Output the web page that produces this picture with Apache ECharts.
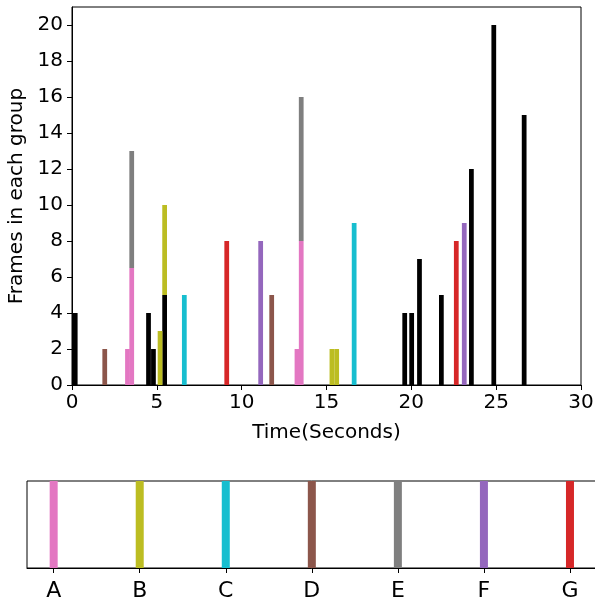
<!DOCTYPE html>
<html>
<head>
<meta charset="utf-8">
<script src="https://cdn.jsdelivr.net/npm/echarts@6/dist/echarts.min.js"></script>
<style>html,body{margin:0;padding:0;background:#fff}#c{width:595px;height:600px}</style>
</head>
<body>
<div id="c"></div>
<script>
// ---- data ----
const blackTimes  = [0.19, 4.51, 4.80, 5.46, 19.61, 20.02, 20.48, 21.77, 23.54, 24.86, 26.65];
const blackValues = [4, 4, 2, 5, 4, 4, 7, 5, 12, 20, 15];
const aTimes = [3.27, 3.52, 13.26, 13.51];  const aValues = [2, 6.5, 2, 8];
const bTimes = [5.19, 5.46, 15.32, 15.60];  const bValues = [3, 5, 2, 2];
const cTimes = [6.62, 16.63];               const cValues = [5, 9];
const dTimes = [1.93, 11.77];               const dValues = [2, 5];
const eTimes = [3.52, 13.51];               const eValues = [6.5, 8];
const fTimes = [11.12, 23.12];              const fValues = [8, 9];
const gTimes = [9.12, 22.65];               const gValues = [8, 8];
const groupNames = ['A', 'B', 'C', 'D', 'E', 'F', 'G'];
const xTicks = [0, 5, 10, 15, 20, 25, 30];
const yTicks = [0, 2, 4, 6, 8, 10, 12, 14, 16, 18, 20];

// ---- styles ----
const groupColors = ['#e377c2', '#bcbd22', '#17becf', '#8c564b', '#7f7f7f', '#9467bd', '#d62728'];
const FONT = 'DejaVu Sans';
const FS = 20;
const BAR_W = 0.28; // data units

const groups = [
  {name: 'other', color: '#000000', t: blackTimes, v: blackValues},
  {name: 'A', color: groupColors[0], t: aTimes, v: aValues},
  {name: 'B', color: groupColors[1], t: bTimes, v: bValues},
  {name: 'C', color: groupColors[2], t: cTimes, v: cValues},
  {name: 'D', color: groupColors[3], t: dTimes, v: dValues},
  {name: 'E', color: groupColors[4], t: eTimes, v: eValues},
  {name: 'F', color: groupColors[5], t: fTimes, v: fValues},
  {name: 'G', color: groupColors[6], t: gTimes, v: gValues}
];

// stack bars sharing the same time
const stackTop = {};
const series = groups.map(g => {
  const data = g.t.map((t, i) => {
    const key = t.toFixed(2);
    const base = stackTop[key] || 0;
    const top = base + g.v[i];
    stackTop[key] = top;
    return [t, base, top];
  });
  return {
    type: 'custom', name: g.name, xAxisIndex: 0, yAxisIndex: 0,
    encode: {x: 0, y: [1, 2]},
    data: data,
    renderItem: (params, api) => {
      const x = api.value(0), y0 = api.value(1), y1 = api.value(2);
      const p0 = api.coord([x - BAR_W / 2, y0]);
      const p1 = api.coord([x + BAR_W / 2, y1]);
      return {type: 'rect', shape: {x: p0[0], y: p1[1], width: p1[0] - p0[0], height: p0[1] - p1[1]},
              style: {fill: g.color}};
    }
  };
});

// bottom legend-like panel
series.push({
  type: 'custom', name: 'groups', xAxisIndex: 1, yAxisIndex: 1,
  encode: {x: 0, y: [1, 2]},
  data: groupNames.map((n, i) => [i, 0, 1]),
  renderItem: (params, api) => {
    const i = api.value(0);
    const p0 = api.coord([i, 0]);
    const p1 = api.coord([i, 1]);
    return {type: 'rect', shape: {x: p0[0] - 4, y: p1[1], width: 8, height: p0[1] - p1[1]},
            style: {fill: groupColors[i]}};
  }
});

const chart = echarts.init(document.getElementById('c'), null, {renderer: 'canvas'});
chart.setOption({
  animation: false,
  backgroundColor: '#fff',
  grid: [
    {left: 72, top: 7, width: 509, height: 378, show: true, borderColor: '#000', borderWidth: 1,
     backgroundColor: 'transparent', outerBoundsMode: 'none', containLabel: false},
    {left: 27, top: 481, width: 586, height: 87, show: true, borderColor: '#000', borderWidth: 1,
     backgroundColor: 'transparent', outerBoundsMode: 'none', containLabel: false}
  ],
  xAxis: [
    {type: 'value', gridIndex: 0, min: 0, max: 30, interval: 5,
     name: 'Time(Seconds)', nameLocation: 'middle', nameGap: 38,
     nameTextStyle: {fontFamily: FONT, fontSize: FS, color: '#000'},
     axisLine: {show: true, onZero: false, lineStyle: {color: '#000', width: 1}},
     axisTick: {show: true, inside: false, length: 5, lineStyle: {color: '#000'}, customValues: xTicks},
     axisLabel: {fontFamily: FONT, fontSize: FS, color: '#000', margin: 8, customValues: xTicks},
     splitLine: {show: false}},
    {type: 'value', gridIndex: 1, min: -0.31, max: 6.5,
     axisLine: {show: true, onZero: false, lineStyle: {color: '#000', width: 1}},
     axisTick: {show: true, inside: false, length: 5, lineStyle: {color: '#000'}, customValues: [0, 1, 2, 3, 4, 5, 6]},
     axisLabel: {fontFamily: FONT, fontSize: 22, color: '#000', margin: 12, customValues: [0, 1, 2, 3, 4, 5, 6],
                 formatter: v => groupNames[Math.round(v)]},
     splitLine: {show: false}}
  ],
  yAxis: [
    {type: 'value', gridIndex: 0, min: 0, max: 21,
     name: 'Frames in each group', nameLocation: 'middle', nameGap: 40, nameRotate: 90,
     nameTextStyle: {fontFamily: FONT, fontSize: FS, color: '#000'},
     axisLine: {show: true, onZero: false, lineStyle: {color: '#000', width: 1}},
     axisTick: {show: true, inside: false, length: 5, lineStyle: {color: '#000'}, customValues: yTicks},
     axisLabel: {fontFamily: FONT, fontSize: FS, color: '#000', margin: 9, customValues: yTicks,
                 padding: [4, 0, 0, 0]},
     splitLine: {show: false}},
    {type: 'value', gridIndex: 1, min: 0, max: 1, show: false,
     splitLine: {show: false}}
  ],
  series: series
});
</script>
</body>
</html>
